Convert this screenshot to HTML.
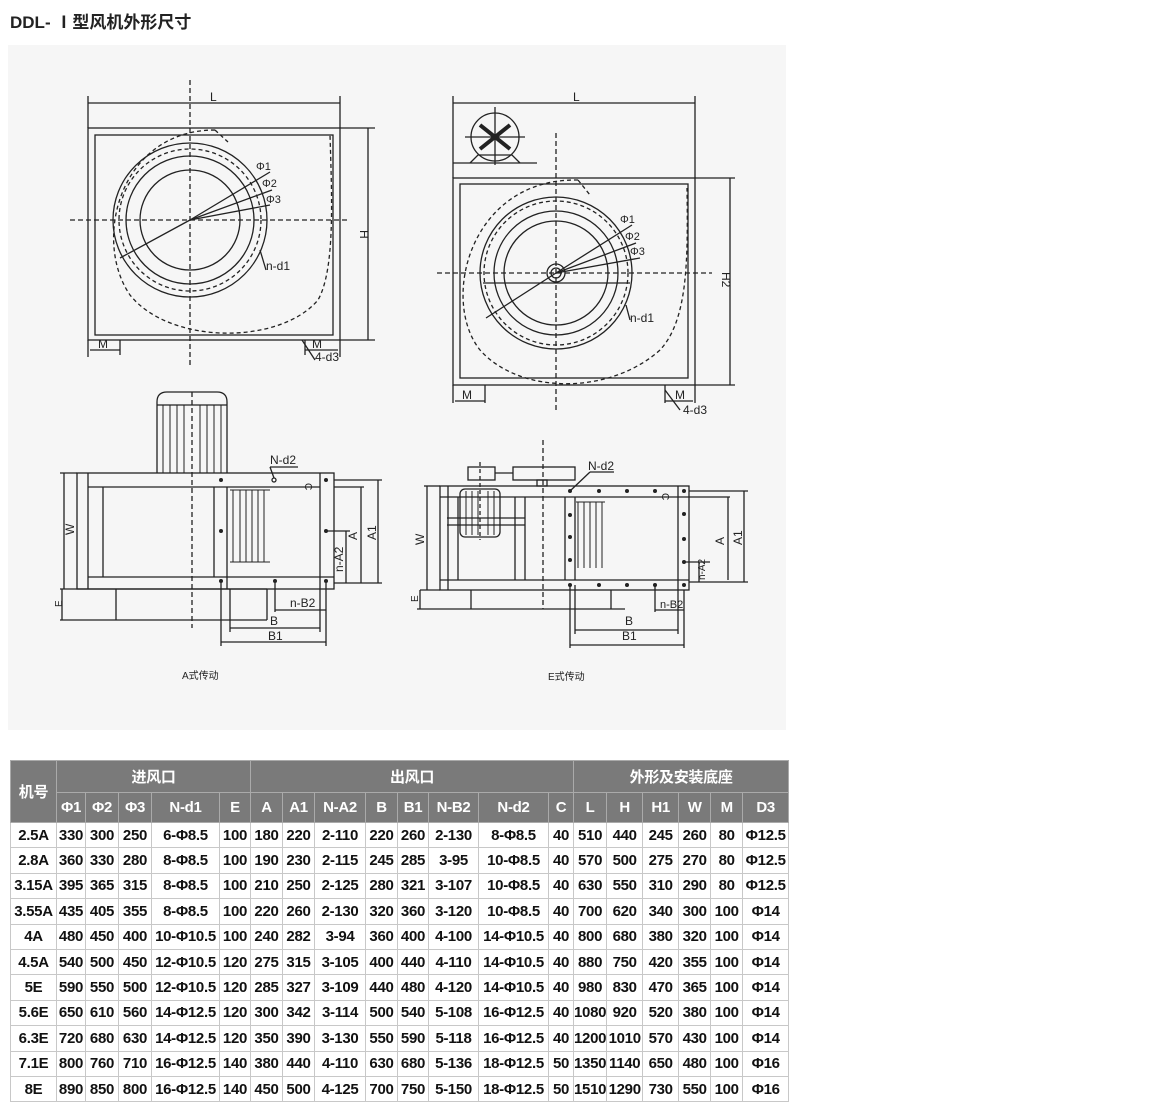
<!DOCTYPE html>
<html><head><meta charset="utf-8"><style>
body{margin:0;width:1158px;height:1115px;background:#fff;position:relative;overflow:hidden;font-family:"Liberation Sans","Noto Sans CJK SC",sans-serif}
.t{position:absolute;left:10px;top:8px;font-size:17px;font-weight:bold;color:#222}
svg{position:absolute;left:0;top:0}
table{position:absolute;left:10px;top:760px;border-collapse:collapse;font-weight:bold;font-size:15px;color:#111}
td{border:1px solid #c8c8c8;text-align:center;padding:0;height:24.4px;white-space:nowrap;letter-spacing:-0.3px}
tr.h td{background:#7a7a7a;color:#fff;border-color:#aaa;height:31px}
tr.h2 td{background:#7a7a7a;color:#fff;border-color:#aaa;height:29px}
</style></head><body>
<div class="t">DDL- Ⅰ型风机外形尺寸</div>
<svg width="1158" height="760" viewBox="0 0 1158 760" font-family="Liberation Sans" font-size="12" fill="none" stroke="#222" stroke-width="1.3">
<rect x="8" y="45" width="778" height="685" fill="#f6f6f6" stroke="none"/>
<!-- Top-left -->
<g>
<line x1="88" y1="103" x2="340" y2="103"/><line x1="88" y1="96" x2="88" y2="128"/><line x1="340" y1="96" x2="340" y2="128"/>
<text x="210" y="101" fill="#222" stroke="none">L</text>
<rect x="88" y="128" width="252" height="212"/><rect x="95" y="135" width="238" height="200"/>
<line x1="88" y1="340" x2="88" y2="357"/><line x1="340" y1="340" x2="340" y2="357"/>
<line x1="120" y1="340" x2="120" y2="355"/><line x1="305" y1="340" x2="305" y2="355"/>
<line x1="90" y1="350" x2="120" y2="350"/><line x1="305" y1="350" x2="338" y2="350"/>
<text x="98" y="348" fill="#222" stroke="none">M</text><text x="312" y="348" fill="#222" stroke="none">M</text>
<line x1="302" y1="340" x2="315" y2="360"/><text x="315" y="361" fill="#222" stroke="none">4-d3</text>
<line x1="340" y1="128" x2="375" y2="128"/><line x1="340" y1="340" x2="375" y2="340"/><line x1="368" y1="128" x2="368" y2="340"/>
<text x="360" y="230" fill="#222" stroke="none" transform="rotate(90 360 230)">H</text>
<line x1="190" y1="80" x2="190" y2="365" stroke-dasharray="5,3"/><line x1="70" y1="220" x2="348" y2="220" stroke-dasharray="5,3"/>
<path d="M215 130 L228 142 M215 130 C120 130 92 240 130 295 C170 345 280 345 318 300 C335 270 332 200 330 135" stroke-dasharray="4,3"/>
<circle cx="190" cy="220" r="77"/><circle cx="190" cy="220" r="71" stroke-dasharray="4,3"/><circle cx="190" cy="220" r="64"/><circle cx="190" cy="220" r="50"/>
<line x1="190" y1="220" x2="270" y2="172"/><line x1="190" y1="220" x2="272" y2="190"/><line x1="190" y1="220" x2="270" y2="205"/>
<line x1="190" y1="220" x2="120" y2="258"/>
<text x="256" y="170" fill="#222" stroke="none" font-size="11">Φ1</text><text x="262" y="187" fill="#222" stroke="none" font-size="11">Φ2</text><text x="266" y="203" fill="#222" stroke="none" font-size="11">Φ3</text>
<line x1="260" y1="250" x2="266" y2="270"/><text x="266" y="270" fill="#222" stroke="none">n-d1</text>
</g>
<!-- Top-right -->
<g>
<line x1="453" y1="103" x2="695" y2="103"/><line x1="453" y1="96" x2="453" y2="178"/><line x1="695" y1="96" x2="695" y2="178"/>
<text x="573" y="101" fill="#222" stroke="none">L</text>
<circle cx="495" cy="137" r="24"/><line x1="465" y1="137" x2="525" y2="137"/><line x1="495" y1="107" x2="495" y2="165"/>
<path d="M480 125 L510 149 M480 149 L510 125" stroke-width="4"/>
<line x1="453" y1="163" x2="537" y2="163"/><path d="M470 163 L478 155 L512 155 L520 163"/>
<rect x="453" y="178" width="242" height="207"/><rect x="460" y="184" width="228" height="194"/>
<line x1="453" y1="385" x2="453" y2="403"/><line x1="485" y1="385" x2="485" y2="403"/><line x1="665" y1="385" x2="665" y2="403"/><line x1="695" y1="385" x2="695" y2="403"/>
<line x1="455" y1="401" x2="485" y2="401"/><line x1="665" y1="401" x2="693" y2="401"/>
<text x="462" y="399" fill="#222" stroke="none">M</text><text x="675" y="399" fill="#222" stroke="none">M</text>
<line x1="665" y1="390" x2="680" y2="410"/><text x="683" y="414" fill="#222" stroke="none">4-d3</text>
<line x1="695" y1="178" x2="735" y2="178"/><line x1="695" y1="385" x2="735" y2="385"/><line x1="730" y1="178" x2="730" y2="385"/>
<text x="722" y="272" fill="#222" stroke="none" transform="rotate(90 722 272)">H2</text>
<line x1="556" y1="133" x2="556" y2="413" stroke-dasharray="5,3"/><line x1="437" y1="273" x2="712" y2="273" stroke-dasharray="5,3"/>
<path d="M578 180 L590 195 M578 180 C470 178 440 300 480 350 C520 395 610 395 660 350 C688 320 688 260 687 188" stroke-dasharray="4,3"/>
<circle cx="556" cy="273" r="76"/><circle cx="556" cy="273" r="72" stroke-dasharray="4,3"/><circle cx="556" cy="273" r="62"/><circle cx="556" cy="273" r="52"/>
<circle cx="556" cy="273" r="9"/><circle cx="556" cy="273" r="5"/>
<line x1="483" y1="283" x2="630" y2="283"/>
<line x1="556" y1="273" x2="632" y2="225"/><line x1="556" y1="273" x2="636" y2="243"/><line x1="556" y1="273" x2="640" y2="258"/><line x1="556" y1="273" x2="486" y2="318"/>
<text x="620" y="223" fill="#222" stroke="none" font-size="11">Φ1</text><text x="625" y="240" fill="#222" stroke="none" font-size="11">Φ2</text><text x="630" y="255" fill="#222" stroke="none" font-size="11">Φ3</text>
<line x1="626" y1="305" x2="630" y2="320"/><text x="630" y="322" fill="#222" stroke="none">n-d1</text>
</g>
<!-- Bottom-left A -->
<g>
<path d="M157 473 V402 Q157 392 167 392 H217 Q227 392 227 402 V473"/>
<g stroke-width="1"><line x1="163" y1="405" x2="163" y2="473"/><line x1="170" y1="405" x2="170" y2="473"/><line x1="177" y1="405" x2="177" y2="473"/><line x1="184" y1="405" x2="184" y2="473"/><line x1="200" y1="405" x2="200" y2="473"/><line x1="207" y1="405" x2="207" y2="473"/><line x1="214" y1="405" x2="214" y2="473"/><line x1="221" y1="405" x2="221" y2="473"/></g>
<line x1="157" y1="405" x2="227" y2="405"/>
<rect x="77" y="473" width="257" height="116"/><line x1="88" y1="487" x2="320" y2="487"/><line x1="88" y1="577" x2="334" y2="577"/>
<line x1="88" y1="473" x2="88" y2="589"/><line x1="103" y1="487" x2="103" y2="577"/><line x1="214" y1="487" x2="214" y2="577"/><line x1="227" y1="487" x2="227" y2="589"/><line x1="320" y1="473" x2="320" y2="589"/>
<g stroke-width="1"><line x1="233" y1="490" x2="233" y2="562"/><line x1="240" y1="490" x2="240" y2="562"/><line x1="246" y1="490" x2="246" y2="562"/><line x1="252" y1="490" x2="252" y2="562"/><line x1="258" y1="490" x2="258" y2="562"/><line x1="264" y1="490" x2="264" y2="562"/><line x1="230" y1="490" x2="270" y2="490"/><line x1="230" y1="562" x2="270" y2="562"/></g>
<line x1="60" y1="589" x2="267" y2="589"/><line x1="60" y1="620" x2="267" y2="620"/><line x1="116" y1="589" x2="116" y2="620"/><line x1="267" y1="589" x2="267" y2="620"/>
<line x1="77" y1="473" x2="60" y2="473"/><line x1="64" y1="473" x2="64" y2="589"/><text x="74" y="535" fill="#222" stroke="none" transform="rotate(-90 74 535)">W</text>
<line x1="62" y1="589" x2="62" y2="620"/><text x="62" y="607" fill="#222" stroke="none" font-size="10" transform="rotate(-90 62 607)">E</text>
<line x1="192" y1="392" x2="192" y2="628" stroke-dasharray="5,3"/>
<g fill="#222" stroke="none"><circle cx="221" cy="480" r="2"/><circle cx="326" cy="480" r="2"/><circle cx="221" cy="531" r="2"/><circle cx="326" cy="531" r="2"/><circle cx="221" cy="581" r="2"/><circle cx="275" cy="581" r="2"/><circle cx="326" cy="581" r="2"/></g>
<circle cx="274" cy="480" r="2" fill="#fff"/>
<line x1="274" y1="478" x2="270" y2="467"/><line x1="270" y1="467" x2="298" y2="467"/><text x="270" y="464" fill="#222" stroke="none">N-d2</text>
<text x="305" y="483" fill="#222" stroke="none" font-size="10" transform="rotate(90 305 483)">C</text>
<line x1="334" y1="487" x2="364" y2="487"/><line x1="334" y1="480" x2="382" y2="480"/><line x1="334" y1="583" x2="382" y2="583"/>
<line x1="361" y1="487" x2="361" y2="583"/><line x1="378" y1="480" x2="378" y2="583"/><line x1="346" y1="531" x2="346" y2="583"/><line x1="326" y1="531" x2="350" y2="531"/>
<text x="357" y="540" fill="#222" stroke="none" transform="rotate(-90 357 540)">A</text><text x="376" y="540" fill="#222" stroke="none" transform="rotate(-90 376 540)">A1</text><text x="343" y="572" fill="#222" stroke="none" transform="rotate(-90 343 572)">n-A2</text>
<line x1="275" y1="583" x2="275" y2="612"/><line x1="326" y1="583" x2="326" y2="646"/><line x1="221" y1="583" x2="221" y2="646"/><line x1="230" y1="589" x2="230" y2="632"/><line x1="320" y1="589" x2="320" y2="632"/>
<line x1="275" y1="610" x2="326" y2="610"/><line x1="230" y1="628" x2="320" y2="628"/><line x1="221" y1="642" x2="326" y2="642"/>
<text x="290" y="607" fill="#222" stroke="none">n-B2</text><text x="270" y="625" fill="#222" stroke="none">B</text><text x="268" y="640" fill="#222" stroke="none">B1</text>
<text x="182" y="679" fill="#222" stroke="none" font-size="10">A式传动</text>
</g>
<!-- Bottom-right E -->
<g>
<rect x="468" y="467" width="27" height="13"/><rect x="513" y="467" width="62" height="13"/><line x1="495" y1="473" x2="513" y2="473"/>
<rect x="537" y="480" width="10" height="6"/>
<rect x="460" y="489" width="40" height="48" rx="5"/>
<g stroke-width="1"><line x1="466" y1="491" x2="466" y2="535"/><line x1="472" y1="491" x2="472" y2="535"/><line x1="478" y1="491" x2="478" y2="535"/><line x1="488" y1="491" x2="488" y2="535"/><line x1="494" y1="491" x2="494" y2="535"/></g>
<rect x="440" y="486" width="249" height="104"/><line x1="440" y1="497" x2="689" y2="497"/><line x1="440" y1="580" x2="689" y2="580"/>
<line x1="448" y1="486" x2="448" y2="590"/><line x1="447" y1="518" x2="525" y2="518"/><line x1="447" y1="525" x2="525" y2="525"/>
<line x1="458" y1="497" x2="458" y2="580"/><line x1="515" y1="497" x2="515" y2="580"/><line x1="525" y1="497" x2="525" y2="580"/>
<line x1="565" y1="497" x2="565" y2="580"/><line x1="575" y1="497" x2="575" y2="580"/><line x1="678" y1="486" x2="678" y2="590"/>
<g stroke-width="1"><line x1="578" y1="502" x2="578" y2="568"/><line x1="584" y1="502" x2="584" y2="568"/><line x1="590" y1="502" x2="590" y2="568"/><line x1="596" y1="502" x2="596" y2="568"/><line x1="602" y1="502" x2="602" y2="568"/><line x1="576" y1="502" x2="605" y2="502"/></g>
<line x1="417" y1="609" x2="625" y2="609"/><line x1="471" y1="590" x2="471" y2="609"/><line x1="611" y1="590" x2="611" y2="609"/>
<line x1="543" y1="440" x2="543" y2="609" stroke-dasharray="5,3"/><line x1="480" y1="462" x2="480" y2="540" stroke-dasharray="4,3"/>
<line x1="440" y1="486" x2="424" y2="486"/><line x1="427" y1="486" x2="427" y2="590"/><line x1="420" y1="590" x2="440" y2="590"/><line x1="420" y1="590" x2="420" y2="609"/>
<text x="424" y="545" fill="#222" stroke="none" transform="rotate(-90 424 545)">W</text><text x="418" y="602" fill="#222" stroke="none" font-size="10" transform="rotate(-90 418 602)">E</text>
<g fill="#222" stroke="none"><circle cx="570" cy="491" r="2"/><circle cx="599" cy="491" r="2"/><circle cx="627" cy="491" r="2"/><circle cx="655" cy="491" r="2"/><circle cx="684" cy="491" r="2"/><circle cx="570" cy="515" r="2"/><circle cx="570" cy="537" r="2"/><circle cx="570" cy="560" r="2"/><circle cx="684" cy="514" r="2"/><circle cx="684" cy="539" r="2"/><circle cx="684" cy="562" r="2"/><circle cx="570" cy="585" r="2"/><circle cx="599" cy="585" r="2"/><circle cx="627" cy="585" r="2"/><circle cx="655" cy="585" r="2"/><circle cx="684" cy="585" r="2"/></g>
<line x1="570" y1="491" x2="590" y2="472"/><line x1="590" y1="472" x2="614" y2="472"/><text x="588" y="470" fill="#222" stroke="none">N-d2</text>
<text x="662" y="493" fill="#222" stroke="none" font-size="10" transform="rotate(90 662 493)">C</text>
<line x1="689" y1="497" x2="730" y2="497"/><line x1="689" y1="491" x2="748" y2="491"/><line x1="689" y1="582" x2="748" y2="582"/>
<line x1="728" y1="497" x2="728" y2="580"/><line x1="744" y1="491" x2="744" y2="582"/><line x1="699" y1="562" x2="699" y2="582"/><line x1="684" y1="562" x2="710" y2="562"/>
<text x="724" y="545" fill="#222" stroke="none" transform="rotate(-90 724 545)">A</text><text x="742" y="545" fill="#222" stroke="none" transform="rotate(-90 742 545)">A1</text><text x="705" y="580" fill="#222" stroke="none" font-size="10" transform="rotate(-90 705 580)">n-A2</text>
<line x1="570" y1="585" x2="570" y2="648"/><line x1="575" y1="585" x2="575" y2="634"/><line x1="678" y1="590" x2="678" y2="634"/><line x1="684" y1="590" x2="684" y2="648"/><line x1="655" y1="585" x2="655" y2="612"/>
<line x1="655" y1="610" x2="684" y2="610"/><line x1="575" y1="630" x2="678" y2="630"/><line x1="570" y1="645" x2="684" y2="645"/>
<text x="660" y="608" fill="#222" stroke="none" font-size="11">n-B2</text><text x="625" y="625" fill="#222" stroke="none">B</text><text x="622" y="640" fill="#222" stroke="none">B1</text>
<text x="548" y="680" fill="#222" stroke="none" font-size="10">E式传动</text>
</g>
</svg>
<table>
<colgroup><col style="width:46px"><col style="width:29px"><col style="width:33px"><col style="width:33px"><col style="width:68px"><col style="width:31px"><col style="width:32px"><col style="width:32px"><col style="width:51px"><col style="width:32px"><col style="width:31px"><col style="width:50px"><col style="width:70px"><col style="width:25px"><col style="width:33px"><col style="width:36px"><col style="width:36px"><col style="width:32px"><col style="width:32px"><col style="width:46px"></colgroup>
<tr class="h"><td rowspan="2">机号</td><td colspan="5">进风口</td><td colspan="8">出风口</td><td colspan="6">外形及安装底座</td></tr>
<tr class="h2"><td>Φ1</td><td>Φ2</td><td>Φ3</td><td>N-d1</td><td>E</td><td>A</td><td>A1</td><td>N-A2</td><td>B</td><td>B1</td><td>N-B2</td><td>N-d2</td><td>C</td><td>L</td><td>H</td><td>H1</td><td>W</td><td>M</td><td>D3</td></tr>
<tr><td>2.5A</td><td>330</td><td>300</td><td>250</td><td>6-Φ8.5</td><td>100</td><td>180</td><td>220</td><td>2-110</td><td>220</td><td>260</td><td>2-130</td><td>8-Φ8.5</td><td>40</td><td>510</td><td>440</td><td>245</td><td>260</td><td>80</td><td>Φ12.5</td></tr>
<tr><td>2.8A</td><td>360</td><td>330</td><td>280</td><td>8-Φ8.5</td><td>100</td><td>190</td><td>230</td><td>2-115</td><td>245</td><td>285</td><td>3-95</td><td>10-Φ8.5</td><td>40</td><td>570</td><td>500</td><td>275</td><td>270</td><td>80</td><td>Φ12.5</td></tr>
<tr><td>3.15A</td><td>395</td><td>365</td><td>315</td><td>8-Φ8.5</td><td>100</td><td>210</td><td>250</td><td>2-125</td><td>280</td><td>321</td><td>3-107</td><td>10-Φ8.5</td><td>40</td><td>630</td><td>550</td><td>310</td><td>290</td><td>80</td><td>Φ12.5</td></tr>
<tr><td>3.55A</td><td>435</td><td>405</td><td>355</td><td>8-Φ8.5</td><td>100</td><td>220</td><td>260</td><td>2-130</td><td>320</td><td>360</td><td>3-120</td><td>10-Φ8.5</td><td>40</td><td>700</td><td>620</td><td>340</td><td>300</td><td>100</td><td>Φ14</td></tr>
<tr><td>4A</td><td>480</td><td>450</td><td>400</td><td>10-Φ10.5</td><td>100</td><td>240</td><td>282</td><td>3-94</td><td>360</td><td>400</td><td>4-100</td><td>14-Φ10.5</td><td>40</td><td>800</td><td>680</td><td>380</td><td>320</td><td>100</td><td>Φ14</td></tr>
<tr><td>4.5A</td><td>540</td><td>500</td><td>450</td><td>12-Φ10.5</td><td>120</td><td>275</td><td>315</td><td>3-105</td><td>400</td><td>440</td><td>4-110</td><td>14-Φ10.5</td><td>40</td><td>880</td><td>750</td><td>420</td><td>355</td><td>100</td><td>Φ14</td></tr>
<tr><td>5E</td><td>590</td><td>550</td><td>500</td><td>12-Φ10.5</td><td>120</td><td>285</td><td>327</td><td>3-109</td><td>440</td><td>480</td><td>4-120</td><td>14-Φ10.5</td><td>40</td><td>980</td><td>830</td><td>470</td><td>365</td><td>100</td><td>Φ14</td></tr>
<tr><td>5.6E</td><td>650</td><td>610</td><td>560</td><td>14-Φ12.5</td><td>120</td><td>300</td><td>342</td><td>3-114</td><td>500</td><td>540</td><td>5-108</td><td>16-Φ12.5</td><td>40</td><td>1080</td><td>920</td><td>520</td><td>380</td><td>100</td><td>Φ14</td></tr>
<tr><td>6.3E</td><td>720</td><td>680</td><td>630</td><td>14-Φ12.5</td><td>120</td><td>350</td><td>390</td><td>3-130</td><td>550</td><td>590</td><td>5-118</td><td>16-Φ12.5</td><td>40</td><td>1200</td><td>1010</td><td>570</td><td>430</td><td>100</td><td>Φ14</td></tr>
<tr><td>7.1E</td><td>800</td><td>760</td><td>710</td><td>16-Φ12.5</td><td>140</td><td>380</td><td>440</td><td>4-110</td><td>630</td><td>680</td><td>5-136</td><td>18-Φ12.5</td><td>50</td><td>1350</td><td>1140</td><td>650</td><td>480</td><td>100</td><td>Φ16</td></tr>
<tr><td>8E</td><td>890</td><td>850</td><td>800</td><td>16-Φ12.5</td><td>140</td><td>450</td><td>500</td><td>4-125</td><td>700</td><td>750</td><td>5-150</td><td>18-Φ12.5</td><td>50</td><td>1510</td><td>1290</td><td>730</td><td>550</td><td>100</td><td>Φ16</td></tr>
</table>
</body></html>
